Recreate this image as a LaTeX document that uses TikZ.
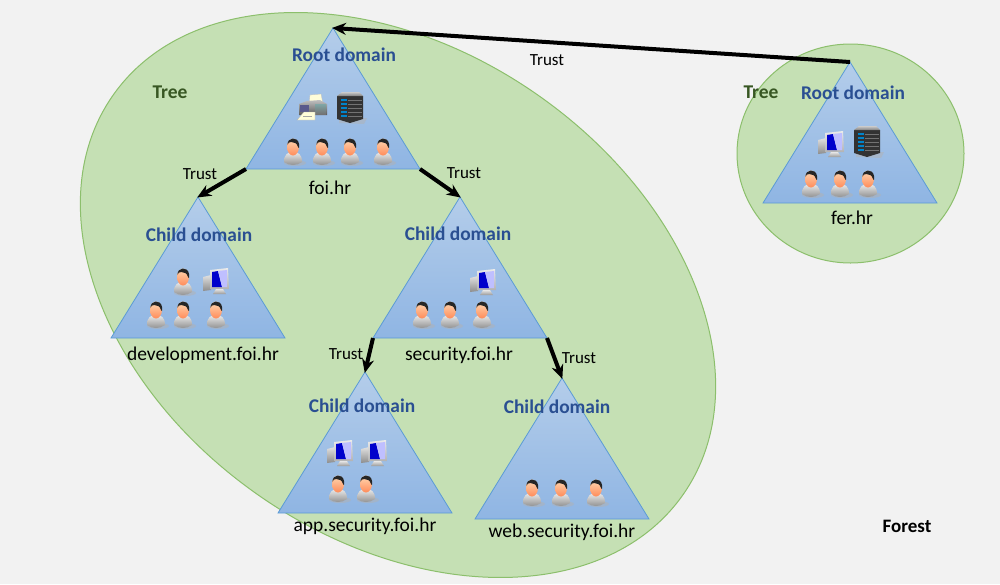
\documentclass[tikz,border=0pt]{standalone}
\usepackage{fontspec}
\setmainfont{Carlito}
\usetikzlibrary{arrows.meta,calc}

\definecolor{bgGray}{HTML}{F2F2F2}
\definecolor{treeFill}{HTML}{C5E0B4}
\definecolor{treeLine}{HTML}{8CBF6C}
\definecolor{triLine}{HTML}{5B9BD5}
\definecolor{triTop}{HTML}{B4CDEA}
\definecolor{triBot}{HTML}{8FB5E3}
\definecolor{domBlue}{HTML}{2A4F92}
\definecolor{treeGreen}{HTML}{385723}

\tikzset{
	treeshape/.style={fill=treeFill,draw=treeLine,line width=1pt},
	domtitle/.style={font=\fontsize{19.4}{20}\selectfont\bfseries,text=domBlue,inner sep=0pt},
	domname/.style={font=\fontsize{19.5}{20}\selectfont,text=black,inner sep=0pt},
	trustlbl/.style={font=\fontsize{17}{18}\selectfont,text=black,inner sep=0pt},
	treelbl/.style={font=\fontsize{19.5}{20}\selectfont\bfseries,text=treeGreen,inner sep=0pt},
	trustarrow/.style={-{Stealth[length=14pt,width=12pt]},line width=4pt,black,shorten >=-1pt},
	person/.pic={
		\fill[black!30,opacity=.5] (2,12) ellipse [x radius=11,y radius=3];
		\shade[top color=black!8,bottom color=black!45]
			(-9,11) .. controls (-9,3) and (-5,1) .. (0,1)
			.. controls (5,1) and (9,3) .. (9,11)
			.. controls (4,15) and (-4,15) .. cycle;
		\shade[top color=orange!30!white,bottom color=orange!60!red!65!white] (0,-4) ellipse [x radius=6,y radius=8.5];
		\fill[black!85] (-5.5,-6) .. controls (-6,-14) and (5,-15) .. (6,-7)
			.. controls (6.5,-2) and (5.5,-2) .. (5,-4) .. controls (4,-8) and (1,-9) .. (-2,-9)
			.. controls (-4,-9) and (-5,-8) .. cycle;
	},
	serverbox/.pic={
		\fill[black!30,opacity=.5] (-11,15) -- (14,16) -- (17,10) -- (-11,10) -- cycle;
		\fill[black!80] (-13,-12) -- (13,-12) -- (13,11) -- (0,15) -- (-13,11) -- cycle;
		\shade[top color=black!20,bottom color=black!50] (-13,-12) -- (-8,-16) -- (9,-16) -- (13,-12) -- cycle;
		\foreach \yy in {-9,-5,-1,3,7}{
			\fill[blue!35!cyan!80!black] (-9,\yy) rectangle (-3,\yy+1.5);
			\draw[black!55,line width=.5pt] (-2,\yy+1) -- (12,\yy+1);
		}
	},
	printerbox/.pic={
		\fill[yellow!15!white,draw=black!25,line width=.3pt] (-3,-3) -- (-2,-12) -- (9,-13) -- (11,-3) -- cycle;
		\shade[top color=black!25,bottom color=black!65] (-13,-3) -- (-5,-6) -- (8,-7) -- (15,-3) -- (15,8) -- (-13,8) -- cycle;
		\fill[blue!30!black!65] (-12,-2) rectangle (-3,5);
		\shade[top color=cyan!30!black!50,bottom color=black!55] (3,-3) rectangle (14,7);
		\fill[yellow!15!white,draw=black!30,line width=.3pt] (-15,13) -- (-8,5) -- (3,5) -- (3,13) -- cycle;
		\draw[black!35,line width=.5pt] (-9,9) -- (0,9);
	},
	monitorbox/.pic={
		\shade[top color=black!12,bottom color=black!45] (-14,-5) -- (-6,-7) -- (-6,8) -- (-14,9) -- cycle;
		\shade[top color=black!8,bottom color=black!30] (-7,-12) -- (11,-14) -- (12,7) -- (-7,7) -- cycle;
		\fill[blue!80!black] (-5,-10) -- (1,-11) -- (5,5) -- (-5,5) -- cycle;
		\fill[blue!25!white] (1,-11) -- (10,-12) -- (10,5) -- (5,5) -- cycle;
		\shade[top color=black!10,bottom color=black!40] (-1,7) -- (6,7) -- (9,12) -- (-4,12) -- cycle;
	},
}

\begin{document}
\begin{tikzpicture}[x=1pt,y=-1pt,>=Stealth]
	\useasboundingbox (0,0) rectangle (1000,584);
	\fill[bgGray] (0,0) rectangle (1000,584);
	% trees
	\draw[treeshape] (398,295) ellipse [x radius=348,y radius=244,rotate=-35];
	\draw[treeshape] (850.5,153.5) ellipse [x radius=113.5,y radius=109.5];
	% domain triangles
	\foreach \nm/\ax/\ay in {foi/333/28,fer/850/62,dev/198/197,sec/460/197,app/365/372,web/562/378}{
		\coordinate (\nm top) at (\ax,\ay);
		\coordinate (\nm left) at (\ax-87,\ay+141);
		\coordinate (\nm right) at (\ax+87,\ay+141);
		\shade[top color=triTop,bottom color=triBot,draw=triLine,line width=.8pt]
			(\nm top) -- (\nm right) -- (\nm left) -- cycle;
	}
	% icons
	\pic at (312,107) {printerbox};
	\pic at (350,108) {serverbox};
	\foreach \px/\py in {293/151,322/151,350/151,383/151,811/183,840/183,868/183,183/281,156/314,183/314,216/314,422/314,450/314,482/314,338/488,366/488,532/492,561/492,596/492}
		\pic at (\px,\py) {person};
	\pic at (867,142) {serverbox};
	\foreach \px/\py in {832/145,217/282,484/283,341/454,375/454}
		\pic at (\px,\py) {monitorbox};
	% trust arrows
	\draw[trustarrow] (fertop) -- (foitop);
	\draw[trustarrow] (foileft) -- (devtop);
	\draw[trustarrow] (foiright) -- (sectop);
	\draw[trustarrow] (secleft) -- (apptop);
	\draw[trustarrow] (secright) -- (webtop);
	% labels
	\node[domtitle] (foiTitle) at (344,54.5) {Root domain};
	\node[domtitle] (ferTitle) at (853,92.5) {Root domain};
	\node[domtitle] (devTitle) at (199,234.5) {Child domain};
	\node[domtitle] (secTitle) at (458,233.5) {Child domain};
	\node[domtitle] (appTitle) at (362,405.5) {Child domain};
	\node[domtitle] (webTitle) at (557,406.5) {Child domain};
	\node[domname] (foiName) at (330,188) {foi.hr};
	\node[domname] (ferName) at (852,218) {fer.hr};
	\node[domname] (devName) at (203,355.5) {development.foi.hr};
	\node[domname] (secName) at (459,355.5) {security.foi.hr};
	\node[domname] (appName) at (365,526.5) {app.security.foi.hr};
	\node[domname] (webName) at (562,532.5) {web.security.foi.hr};
	\node[trustlbl] (trustTop) at (547,60) {Trust};
	\node[trustlbl] (trustDev) at (200,174) {Trust};
	\node[trustlbl] (trustSec) at (464,173) {Trust};
	\node[trustlbl] (trustApp) at (346,354) {Trust};
	\node[trustlbl] (trustWeb) at (579,358) {Trust};
	\node[treelbl] (treeFoi) at (170,92) {Tree};
	\node[treelbl] (treeFer) at (761,92) {Tree};
	\node[font=\fontsize{19}{20}\selectfont\bfseries,inner sep=0pt] (forest) at (907,526) {Forest};
\end{tikzpicture}
\end{document}
